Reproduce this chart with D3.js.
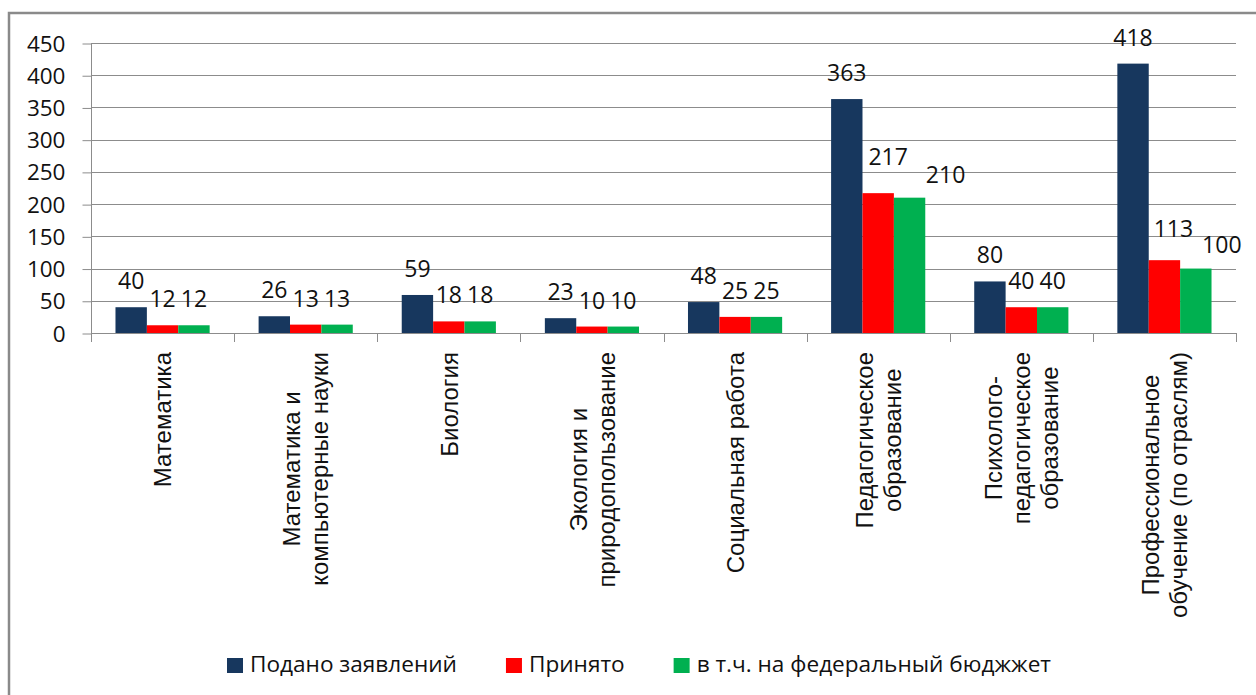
<!DOCTYPE html>
<html>
<head>
<meta charset="utf-8">
<script src="https://cdn.jsdelivr.net/npm/d3@7"></script>
<style>
  body { margin: 0; background: #fff; }
  svg { display: block; }
</style>
</head>
<body>
<div id="chart"></div>
<script>
// Категории (переносы строк как в подписях оси)
var categories = [
    "Математика",
    "Математика и\nкомпьютерные науки",
    "Биология",
    "Экология и\nприродопользование",
    "Социальная работа",
    "Педагогическое\nобразование",
    "Психолого-\nпедагогическое\nобразование",
    "Профессиональное\nобучение (по отраслям)"
];
var seriesNames = ["Подано заявлений", "Принято", "в т.ч. на федеральный бюджжет"];
var applied  = [40, 26, 59, 23, 48, 363, 80, 418];
var accepted = [12, 13, 18, 10, 25, 217, 40, 113];
var federal  = [12, 13, 18, 10, 25, 210, 40, 100];
var yTicks = [0, 50, 100, 150, 200, 250, 300, 350, 400, 450];

var colors = ["#17375e", "#ff0000", "#00b050"];
var series = [applied, accepted, federal];

// hand-moved data labels in the original (dx, dy)
var labelNudge = {
    "5-1": [10, -10],
    "5-2": [36, 3],
    "7-1": [9, -5],
    "7-2": [26, 2]
};

var width = 1256, height = 695;
var numFont = "'Open Sans', 'Noto Sans', sans-serif";
var catFont = "'Liberation Sans', Arial, sans-serif";

var svg = d3.select("#chart").append("svg")
    .attr("width", width)
    .attr("height", height);

// chart frame (runs off the right and bottom edge)
svg.append("rect")
    .attr("x", 9).attr("y", 13)
    .attr("width", 1300).attr("height", 720)
    .attr("fill", "#fff")
    .attr("stroke", "#8a8a8a")
    .attr("stroke-width", 2.5);

var x = d3.scaleBand()
    .domain(d3.range(categories.length))
    .range([91, 1236]);

var x1 = d3.scaleBand()
    .domain(d3.range(series.length))
    .range([0, x.bandwidth()])
    .paddingOuter(0.78);

var y = d3.scaleLinear()
    .domain([0, 450])
    .range([333, 43]);

// gridlines
svg.append("g")
    .selectAll("line")
    .data(yTicks)
    .enter().append("line")
    .attr("x1", 91).attr("x2", 1236)
    .attr("y1", function (d) { return Math.round(y(d)) + 0.5; })
    .attr("y2", function (d) { return Math.round(y(d)) + 0.5; })
    .attr("stroke", "#8c8c8c")
    .attr("stroke-width", 1);

// y axis
var yAxis = svg.append("g")
    .attr("transform", "translate(91.5,0)")
    .call(d3.axisLeft(y).tickValues(yTicks).tickSize(9).tickPadding(17));
yAxis.select(".domain").remove();
yAxis.append("line")
    .attr("y1", y(450)).attr("y2", 342)
    .attr("stroke", "#8c8c8c");
yAxis.selectAll(".tick line")
    .attr("stroke", "#8c8c8c")
    .attr("transform", "translate(0,0.5)");
yAxis.selectAll(".tick text")
    .attr("fill", "#111")
    .style("font-family", numFont)
    .style("font-size", "22.5px")
    .attr("dy", "0.36em");

// x axis ticks at category boundaries
var bounds = d3.range(categories.length + 1).map(function (i) {
    return i < categories.length ? x(i) : x.range()[1];
});
svg.append("g")
    .selectAll("line")
    .data(bounds)
    .enter().append("line")
    .attr("x1", function (d) { return Math.round(d) + 0.5; })
    .attr("x2", function (d) { return Math.round(d) + 0.5; })
    .attr("y1", 333).attr("y2", 342)
    .attr("stroke", "#8c8c8c");

// bars
var groups = svg.append("g")
    .selectAll("g")
    .data(categories)
    .enter().append("g")
    .attr("transform", function (d, i) { return "translate(" + x(i) + ",0)"; });

groups.selectAll("rect")
    .data(function (d, i) {
        return series.map(function (s, k) { return { cat: i, s: k, v: s[i] }; });
    })
    .enter().append("rect")
    .attr("x", function (d) { return x1(d.s); })
    .attr("width", x1.bandwidth())
    .attr("y", function (d) { return y(d.v); })
    .attr("height", function (d) { return y(0) - y(d.v); })
    .attr("fill", function (d) { return colors[d.s]; });

groups.selectAll("text")
    .data(function (d, i) {
        return series.map(function (s, k) { return { cat: i, s: k, v: s[i] }; });
    })
    .enter().append("text")
    .attr("x", function (d) {
        var n = labelNudge[d.cat + "-" + d.s];
        return x1(d.s) + x1.bandwidth() / 2 + (n ? n[0] : 0);
    })
    .attr("y", function (d) {
        var n = labelNudge[d.cat + "-" + d.s];
        return y(d.v) - 18 + (n ? n[1] : 0);
    })
    .attr("text-anchor", "middle")
    .attr("fill", "#111")
    .style("font-family", numFont)
    .style("font-size", "23px")
    .text(function (d) { return d.v; });

// category labels, rotated, lines centred on each other
var lineH = 28, capH = 17.5, labelTop = 352;
categories.forEach(function (c, i) {
    var lines = c.split("\n");
    var n = lines.length;
    var b1 = (capH - (n - 1) * lineH) / 2;
    var t = svg.append("text")
        .attr("transform", "translate(" + (x(i) + x.bandwidth() / 2) + "," + labelTop + ") rotate(-90)")
        .attr("text-anchor", "middle")
        .attr("fill", "#111")
        .style("font-family", catFont)
        .style("font-size", "24px");
    var spans = lines.map(function (l, k) {
        return t.append("tspan").attr("y", b1 + k * lineH).text(l);
    });
    var maxLen = d3.max(spans, function (s) { return s.node().getComputedTextLength(); });
    spans.forEach(function (s) { s.attr("x", -maxLen / 2); });
});

// legend
var legend = svg.append("g").attr("transform", "translate(227,0)");
var lx = 0;
seriesNames.forEach(function (name, k) {
    legend.append("rect")
        .attr("x", lx).attr("y", 658)
        .attr("width", 16).attr("height", 15)
        .attr("fill", colors[k]);
    var t = legend.append("text")
        .attr("x", lx + 23).attr("y", 672)
        .attr("fill", "#111")
        .style("font-family", numFont)
        .style("font-size", "22.6px")
        .text(name);
    lx += 23 + t.node().getComputedTextLength() + 49;
});
</script>
</body>
</html>
